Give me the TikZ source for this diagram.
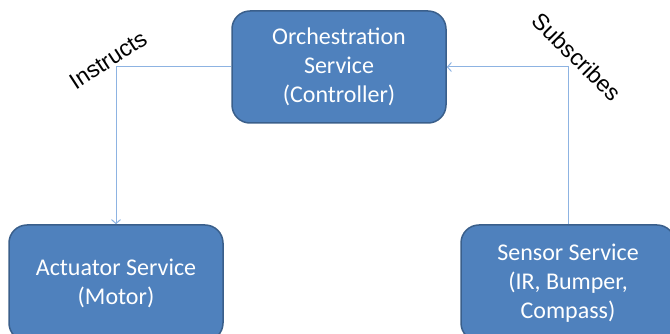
\documentclass[tikz,border=0pt]{standalone}
\usepackage{fontspec}
\setmainfont{Carlito}
\newfontfamily\verbfont{Liberation Sans}
\usetikzlibrary{arrows.meta}
\definecolor{boxblue}{HTML}{4F81BD}
\definecolor{boxline}{HTML}{3A5F8B}
\definecolor{linkblue}{HTML}{8DB3E2}

\begin{document}
\begin{tikzpicture}[x=1pt,y=-1pt,
	service/.style={draw=boxline,line width=1.5pt,fill=boxblue,rounded corners=18pt,
		text=white,align=center,inner sep=0pt,
		minimum width=214pt,font=\fontsize{24}{29}\selectfont},
	link/.style={draw=linkblue,line width=1pt,-{Straight Barb[length=4pt,width=9pt]}},
	verb/.style={font=\verbfont\fontsize{23}{26}\selectfont}]
	\useasboundingbox (0,0) rectangle (670,334);
	\clip (0,0) rectangle (670,334);

	\node[service,minimum height=112pt] (orch) at (339,67) {Orchestration\\Service\\(Controller)};
	\node[service,minimum height=116pt] (act) at (116,283) {Actuator Service\\(Motor)};
	\node[service,minimum height=116pt] (sens) at (568,283) {Sensor Service\\(IR, Bumper,\\Compass)};

	\draw[link] (orch.west) -| (act.north);
	\draw[link] (sens.north) |- (orch.east);

	\node[verb,rotate=33] (instr) at (108,60) {Instructs};
	\node[verb,rotate=-45] (subs) at (577,57) {Subscribes};
\end{tikzpicture}
\end{document}
